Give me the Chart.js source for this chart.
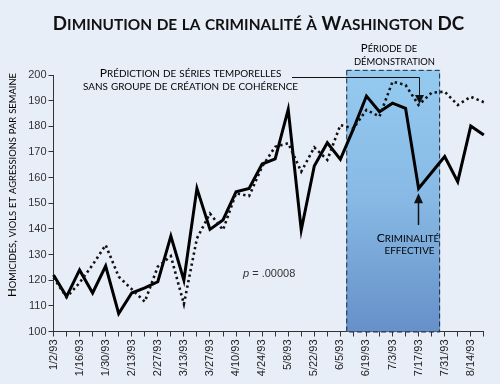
<!DOCTYPE html>
<html>
<head>
<meta charset="utf-8">
<script src="https://cdn.jsdelivr.net/npm/chart.js@4.4.1/dist/chart.umd.min.js"></script>
<style>
  html, body { margin: 0; padding: 0; background: #e8eef8; }
  #wrap { width: 500px; height: 384px; }
</style>
</head>
<body>
<div id="wrap"><canvas id="c" width="500" height="384"></canvas></div>
<script>
// ---- Data ----
const weeks = ['1/2/93','1/9/93','1/16/93','1/23/93','1/30/93','2/6/93','2/13/93','2/20/93','2/27/93','3/6/93',
  '3/13/93','3/20/93','3/27/93','4/3/93','4/10/93','4/17/93','4/24/93','5/1/93','5/8/93','5/15/93',
  '5/22/93','5/29/93','6/5/93','6/12/93','6/19/93','6/26/93','7/3/93','7/10/93','7/17/93','7/24/93',
  '7/31/93','8/7/93','8/14/93','8/21/93'];
const actualCrime = [122, 113.6, 124, 115, 125.5, 107, 115, 117, 119.4, 137.2,
  120, 155.8, 139.8, 143.5, 154.5, 155.8, 165.3, 167.3, 186.6, 139.6,
  164.5, 173.6, 167.1, 179, 191.8, 185.7, 189, 187, 155.8, 162,
  168.2, 158.4, 180.1, 176.6];
const predictedCrime = [121, 113.3, 119, 126, 133.7, 121.4, 116.5, 111.6, 125.3, 129.4,
  110.7, 136.3, 146, 139.6, 153.9, 152.8, 164.3, 172, 173.4, 162.3,
  171.8, 166.9, 180.5, 179.2, 186.4, 183.8, 197.4, 196.1, 188.3, 193.1,
  193.5, 188.3, 191.5, 189.4];
const yMin = 100, yMax = 200, yStep = 10;
const demoStart = 22.45, demoEnd = 29.65, demoTop = 202;   // demonstration period (week index units)
const arrowWeek = 28;

const titleText = 'Diminution de la criminalité à Washington DC';
const yTitleText = 'Homicides, viols et agressions par semaine';
const predLines = ['Prédiction de séries temporelles', 'sans groupe de création de cohérence'];
const demoLines = ['Période de', 'démonstration'];
const actLines = ['Criminalité', 'effective'];
const pText = '= .00008';

// ---- small caps helper ----
const SC_FONT = 'Lato, "Open Sans", sans-serif';
const SC_RATIO = 0.82;
function scSegments(text) {
  const segs = [];
  for (const ch of text) {
    const lower = ch !== ch.toUpperCase();
    const s = lower ? ch.toUpperCase() : ch;
    if (segs.length && segs[segs.length - 1].lower === lower) segs[segs.length - 1].t += s;
    else segs.push({ t: s, lower });
  }
  return segs;
}
function scWidth(ctx, text, b, weight) {
  let w = 0;
  for (const s of scSegments(text)) {
    ctx.font = weight + ' ' + (s.lower ? b * SC_RATIO : b) + 'px ' + SC_FONT;
    w += ctx.measureText(s.t).width;
  }
  return w;
}
function scFit(ctx, text, weight, targetW) {
  return 10 * targetW / scWidth(ctx, text, 10, weight);
}
function drawSC(ctx, text, x, y, b, weight, align, color) {
  const segs = scSegments(text);
  const w = scWidth(ctx, text, b, weight);
  let cx = align === 'center' ? x - w / 2 : (align === 'right' ? x - w : x);
  ctx.fillStyle = color;
  ctx.textAlign = 'left';
  ctx.textBaseline = 'alphabetic';
  for (const s of segs) {
    ctx.font = weight + ' ' + (s.lower ? b * SC_RATIO : b) + 'px ' + SC_FONT;
    ctx.fillText(s.t, cx, y);
    cx += ctx.measureText(s.t).width;
  }
  return w;
}

const bgPlugin = {
  id: 'bg',
  beforeDraw(chart) {
    const ctx = chart.ctx;
    ctx.save();
    ctx.fillStyle = '#e8eef8';
    ctx.fillRect(0, 0, chart.width, chart.height);
    ctx.restore();
  },
  beforeDatasetsDraw(chart) {
    const { ctx, scales: { x, y } } = chart;
    const x0 = x.getPixelForValue(demoStart), x1 = x.getPixelForValue(demoEnd);
    const y0 = y.getPixelForValue(demoTop), y1 = y.getPixelForValue(yMin);
    ctx.save();
    const g = ctx.createLinearGradient(0, y0, 0, y1);
    g.addColorStop(0, '#95caf0');
    g.addColorStop(0.5, '#87b9e4');
    g.addColorStop(1, '#6690c9');
    ctx.fillStyle = g;
    ctx.fillRect(x0, y0, x1 - x0, y1 - y0);
    ctx.setLineDash([5, 3]);
    ctx.strokeStyle = '#1e2b3a';
    ctx.lineWidth = 1;
    ctx.strokeRect(x0 + 0.5, y0 + 0.5, x1 - x0 - 1, y1 - y0);
    ctx.restore();
  },
  afterDraw(chart) {
    const { ctx, scales: { x, y } } = chart;
    ctx.save();
    // Title
    drawSC(ctx, titleText, 258.5, 29.5, scFit(ctx, titleText, 'bold', 411), 'bold', 'center', '#111');
    // Y axis title
    ctx.save();
    ctx.translate(16, 185);
    ctx.rotate(-Math.PI / 2);
    drawSC(ctx, yTitleText, 0, 0, scFit(ctx, yTitleText, 'normal', 224), 'normal', 'center', '#000');
    ctx.restore();
    // Prediction annotation
    const pSize = scFit(ctx, predLines[1], 'normal', 215);
    drawSC(ctx, predLines[0], 190.5, 76.5, pSize, 'normal', 'center', '#000');
    drawSC(ctx, predLines[1], 190.5, 89.5, pSize, 'normal', 'center', '#000');
    // demonstration label
    const dSize = scFit(ctx, demoLines[1], 'normal', 81);
    drawSC(ctx, demoLines[0], 389, 51.5, dSize, 'normal', 'center', '#000');
    drawSC(ctx, demoLines[1], 394.5, 65, dSize, 'normal', 'center', '#000');
    // actual crime label
    const aSize = scFit(ctx, actLines[0], 'normal', 62.6);
    drawSC(ctx, actLines[0], 408, 241.5, aSize, 'normal', 'center', '#000');
    drawSC(ctx, actLines[1], 409.5, 254, aSize, 'normal', 'center', '#000');

    // Arrow to predicted
    const ax = Math.round(x.getPixelForValue(arrowWeek)) + 0.5;
    const hy = Math.round(y.getPixelForValue(199.2)) + 0.5;
    const tipP = y.getPixelForValue(predictedCrime[arrowWeek]) - 1;
    ctx.strokeStyle = '#111';
    ctx.fillStyle = '#111';
    ctx.lineWidth = 1;
    ctx.setLineDash([]);
    ctx.beginPath();
    ctx.moveTo(292, hy);
    ctx.lineTo(ax, hy);
    ctx.lineTo(ax, tipP - 8);
    ctx.stroke();
    ctx.beginPath();
    ctx.moveTo(ax - 4.5, tipP - 9);
    ctx.lineTo(ax + 4.5, tipP - 9);
    ctx.lineTo(ax, tipP);
    ctx.closePath();
    ctx.fill();
    // Arrow to actual
    const ax2 = ax - 1;
    const tipA = y.getPixelForValue(actualCrime[arrowWeek]) + 5;
    ctx.lineWidth = 1.5;
    ctx.beginPath();
    ctx.moveTo(ax2, tipA + 8);
    ctx.lineTo(ax2, 225);
    ctx.stroke();
    ctx.beginPath();
    ctx.moveTo(ax2 - 4.5, tipA + 10);
    ctx.lineTo(ax2 + 4.5, tipA + 10);
    ctx.lineTo(ax2, tipA);
    ctx.closePath();
    ctx.fill();

    // p value
    ctx.fillStyle = '#333';
    ctx.textAlign = 'left';
    ctx.textBaseline = 'alphabetic';
    ctx.font = 'italic 11px "Liberation Sans", Arial, sans-serif';
    ctx.fillText('p', 243, 277);
    const pw = ctx.measureText('p ').width;
    ctx.font = '11px "Liberation Sans", Arial, sans-serif';
    ctx.fillText(pText, 243 + pw, 277);
    ctx.restore();
  }
};

const tickFont = { family: '"Liberation Sans", Arial, sans-serif', size: 11 };

new Chart(document.getElementById('c'), {
  type: 'line',
  data: {
    labels: weeks,
    datasets: [
      { label: 'Prédiction de séries temporelles', data: predictedCrime, borderColor: '#111', borderWidth: 2.6,
        borderDash: [2.4, 3.2], pointRadius: 0, tension: 0, fill: false },
      { label: 'Criminalité effective', data: actualCrime, borderColor: '#000', borderWidth: 3,
        pointRadius: 0, tension: 0, fill: false, borderJoinStyle: 'miter' }
    ]
  },
  options: {
    responsive: false,
    animation: false,
    events: [],
    layout: { padding: { top: 75, right: 10, left: 0, bottom: 0 } },
    plugins: { legend: { display: false }, title: { display: false }, tooltip: { enabled: false } },
    scales: {
      x: {
        type: 'category',
        offset: false,
        grid: { drawOnChartArea: false, drawTicks: true, tickLength: 5, color: '#333', lineWidth: 1 },
        border: { color: '#333', width: 1 },
        ticks: {
          autoSkip: false, maxRotation: 90, minRotation: 90, padding: 3, color: '#222', font: tickFont,
          callback: (v, i) => (i % 2 === 0 ? weeks[i] : '')
        },
        afterFit: (s) => { s.height = 52.5; }
      },
      y: {
        min: yMin, max: yMax,
        grid: { drawOnChartArea: false, drawTicks: true, tickLength: 5, color: '#333', lineWidth: 1 },
        border: { color: '#333', width: 1 },
        ticks: { stepSize: yStep, color: '#333', font: tickFont, padding: 2 },
        afterFit: (s) => { s.width = 53.5; }
      }
    }
  },
  plugins: [bgPlugin]
});
</script>
</body>
</html>
